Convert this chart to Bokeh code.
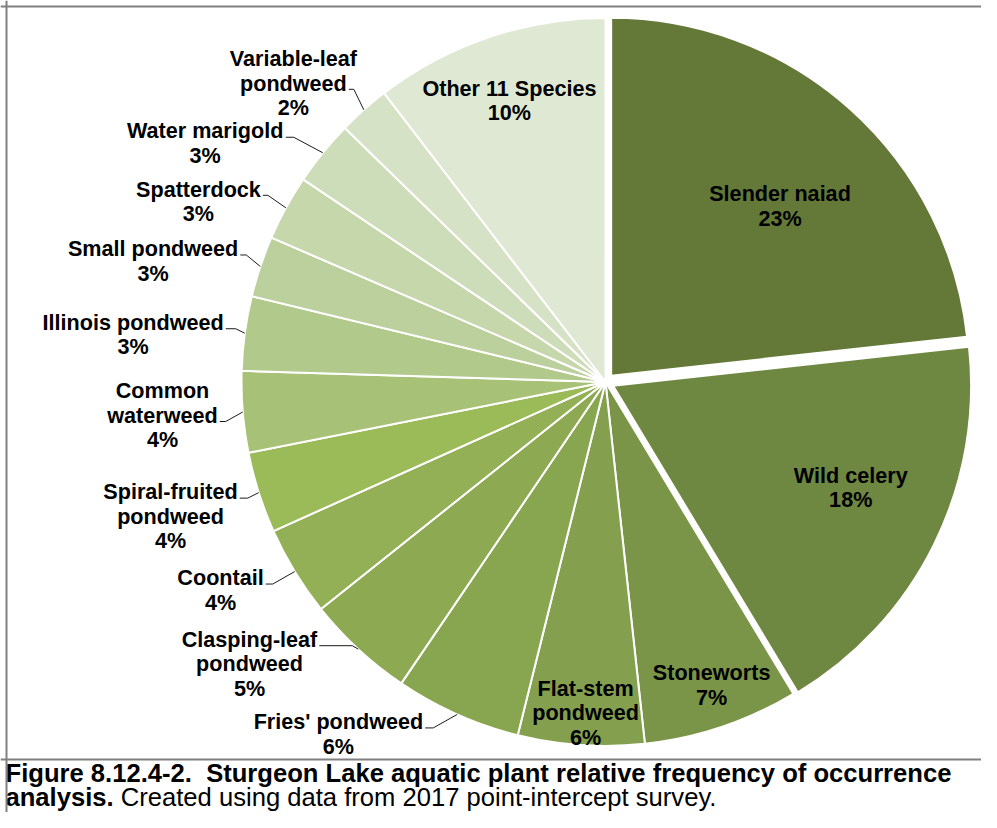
import math
from bokeh.plotting import figure
from bokeh.models import Range1d, Span, ColumnDataSource
from bokeh.core.properties import value
from bokeh.embed import file_html
from bokeh.resources import INLINE

# ---------------- data ----------------
species = ["Slender naiad", "Wild celery", "Stoneworts", "Flat-stem pondweed",
           "Fries' pondweed", "Clasping-leaf pondweed", "Coontail",
           "Spiral-fruited pondweed", "Common waterweed", "Illinois pondweed",
           "Small pondweed", "Spatterdock", "Water marigold",
           "Variable-leaf pondweed", "Other 11 Species"]
frequency = [23.25, 18.1, 6.9, 5.6, 5.6, 4.8, 4.0, 3.6, 3.6, 3.3, 2.7, 2.9, 2.9, 2.3, 10.4]

caption_title = "Figure 8.12.4-2."
caption_rest = "Sturgeon Lake aquatic plant relative frequency of occurrence"
caption_bold2 = "analysis."
caption_regular = "Created using data from 2017 point-intercept survey."

# ---------------- style / layout ----------------
colors = ["#647838", "#6E8741", "#7A9548", "#84A04E", "#88A550", "#8DAA53",
          "#93B056", "#9BBB59", "#A7C277", "#B1C98B", "#BBD09C", "#C5D7AB",
          "#CEDDB9", "#D6E2C5", "#DFE8D3"]
wrap_label = [False, False, False, True, False, True, False, True, True,
              False, False, False, False, True, False]
exploded = [True, True] + [False] * 13
# inside labels: (radius fraction, nudge x, nudge y)
inside_layout = {0: (0.66, 8.5, 9), 1: (0.71, 6, -13), 2: (0.882, 3.5, -1),
                 3: (0.911, 2.5, 0), 14: (0.822, 0, 2)}
# outside labels: (text end dx, baseline dy from slice edge, attach line, leader horizontal length)
outside_layout = {4: (-34, 15, 0, 10), 5: (-41, -2, 0, 35), 6: (-31, 14, 0, 9),
                  7: (-21, 7, 0, 10), 8: (-25, 11, 1, 8), 9: (-21, -3, 0, 12),
                  10: (-22, -10, 0, 8), 11: (-25, -11, 0, 7), 12: (-39, -14, 0, 10),
                  13: (-17, -19, 1, 7)}

FONT = "Liberation Sans"
FS = 21.6
LS = 24.5
CAP_FS = 25.6
TEXT_DROP = 0.36          # renderer draws the alphabetic baseline this fraction of the size lower
W, H = 981, 812
CX, CY, R = 605.0, 381.5, 364.0
EXPLODE, R_EXPLODED = 8.5, 358.0
BORDER = "#808080"

BOLD = {' ': 278, '!': 333, "'": 238, '%': 889, '-': 333, '.': 278,
        'A': 722, 'B': 722, 'C': 722, 'D': 722, 'E': 667, 'F': 611, 'G': 778, 'H': 722,
        'I': 278, 'J': 556, 'K': 722, 'L': 611, 'M': 833, 'N': 722, 'O': 778, 'P': 667,
        'Q': 778, 'R': 722, 'S': 667, 'T': 611, 'U': 722, 'V': 667, 'W': 944, 'X': 667,
        'Y': 667, 'Z': 611, 'a': 556, 'b': 611, 'c': 556, 'd': 611, 'e': 556, 'f': 333,
        'g': 611, 'h': 611, 'i': 278, 'j': 278, 'k': 556, 'l': 278, 'm': 889, 'n': 611,
        'o': 611, 'p': 611, 'q': 611, 'r': 389, 's': 556, 't': 333, 'u': 611, 'v': 556,
        'w': 778, 'x': 556, 'y': 556, 'z': 500}
REG = {' ': 278, '-': 333, '.': 278, 'C': 722, 'a': 556, 'b': 556, 'c': 500, 'd': 556,
       'e': 556, 'f': 278, 'g': 556, 'h': 556, 'i': 222, 'j': 222, 'k': 500, 'l': 222,
       'm': 833, 'n': 556, 'o': 556, 'p': 556, 'q': 556, 'r': 333, 's': 500, 't': 278,
       'u': 556, 'v': 500, 'w': 722, 'x': 500, 'y': 500, 'z': 500}


def tw(s, table, fs):
    return sum(table.get(ch, 556) for ch in s) / 1000.0 * fs


def Y(sy):
    return H - sy


def YT(baseline, fs):
    # data y that puts the visible baseline at screen row `baseline`
    return H - (baseline - TEXT_DROP * fs)


p = figure(width=W, height=H, x_range=Range1d(0, W), y_range=Range1d(0, H),
           output_backend="svg", toolbar_location=None,
           x_axis_location=None, y_axis_location=None, min_border=0)
p.outline_line_color = None
p.xgrid.grid_line_color = None
p.ygrid.grid_line_color = None
p.background_fill_color = "white"
p.border_fill_color = "white"

total = sum(frequency)
pct = [round(v / total * 100) for v in frequency]

wx, wy, wr, a_start, a_end, mids, verts = [], [], [], [], [], [], []
ang = 90.0
for i, v in enumerate(frequency):
    sweep = v / total * 360.0
    a0, a1 = ang, ang - sweep
    ang = a1
    m = math.radians((a0 + a1) / 2)
    e = EXPLODE if exploded[i] else 0.0
    vx = CX + e * math.cos(m)
    vy = CY - e * math.sin(m)
    mids.append(m)
    verts.append((vx, vy))
    wx.append(vx)
    wy.append(Y(vy))
    wr.append(R_EXPLODED if exploded[i] else R)
    a_start.append(math.radians(a1))
    a_end.append(math.radians(a0))

src = ColumnDataSource(dict(x=wx, y=wy, r=wr, s=a_start, e=a_end, c=colors, name=species))
p.wedge(x="x", y="y", radius="r", start_angle="s", end_angle="e", fill_color="c",
        line_color="white", line_width=2, source=src)

lab_x, lab_y, lab_t = [], [], []
lead_xs, lead_ys = [], []
for i in range(len(species)):
    lines = species[i].rsplit(" ", 1) if wrap_label[i] else [species[i]]
    lines = lines + ["%d%%" % pct[i]]
    m = mids[i]
    vx, vy = verts[i]
    if i in inside_layout:
        rf, dx, dy = inside_layout[i]
        cx = vx + rf * R * math.cos(m) + dx
        cy = vy - rf * R * math.sin(m) + dy
        nl = len(lines)
        for k, t in enumerate(lines):
            base = cy + (k - (nl - 1) / 2.0) * LS + 0.36 * FS
            lab_x.append(cx)
            lab_y.append(YT(base, FS))
            lab_t.append(t)
    else:
        dx, dy, att, hl = outside_layout[i]
        ex = CX + R * math.cos(m)
        ey = CY - R * math.sin(m)
        tx = ex + dx
        tb = ey + dy
        cx = tx - tw(lines[att], BOLD, FS) / 2.0
        for k, t in enumerate(lines):
            base = tb + (k - att) * LS
            lab_x.append(cx)
            lab_y.append(YT(base, FS))
            lab_t.append(t)
        ly = tb - 1.5
        lead_xs.append([tx + 2, tx + hl, ex])
        lead_ys.append([Y(ly), Y(ly), Y(ey)])

p.multi_line(xs=lead_xs, ys=lead_ys, line_color="#1a1a1a", line_width=1)
p.text(x=lab_x, y=lab_y, text=lab_t, text_font=value(FONT), text_font_style="bold",
       text_font_size=value("%.1fpx" % FS), text_align="center",
       text_baseline="alphabetic", text_color="#000000")

# borders
p.add_layout(Span(location=Y(6), dimension="width", line_color=BORDER, line_width=2))
p.add_layout(Span(location=6, dimension="height", line_color=BORDER, line_width=2))
p.add_layout(Span(location=Y(759), dimension="width", line_color=BORDER, line_width=2))

# caption
x0 = 5.0
cap_size = value("%.1fpx" % CAP_FS)
x1 = x0 + tw(caption_title + "  ", BOLD, CAP_FS)
p.text(x=[x0, x1, x0], y=[YT(781.5, CAP_FS), YT(781.5, CAP_FS), YT(805.5, CAP_FS)],
       text=[caption_title, caption_rest, caption_bold2],
       text_font=value(FONT), text_font_style="bold", text_font_size=cap_size,
       text_align="left", text_baseline="alphabetic", text_color="#000000")
x2 = x0 + tw(caption_bold2, BOLD, CAP_FS) + tw(" ", REG, CAP_FS)
p.text(x=[x2], y=[YT(805.5, CAP_FS)], text=[caption_regular],
       text_font=value(FONT), text_font_style="normal", text_font_size=cap_size,
       text_align="left", text_baseline="alphabetic", text_color="#000000")

open("out.html", "w").write(file_html(p, INLINE))
